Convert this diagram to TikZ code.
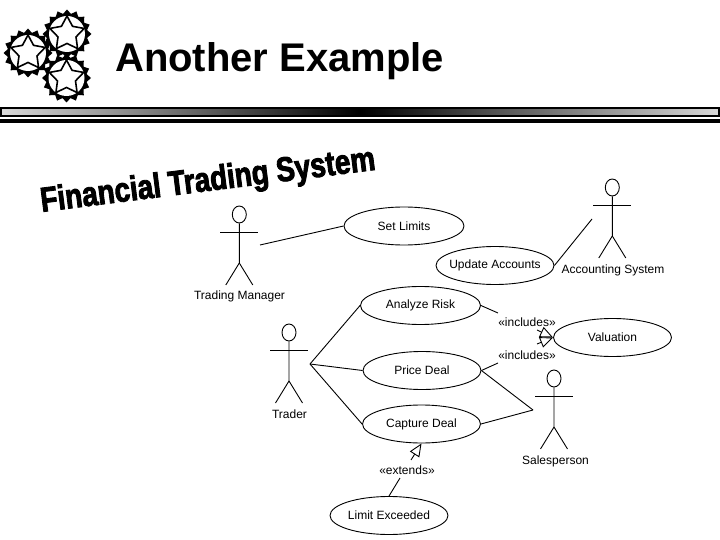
\documentclass[tikz,border=0pt]{standalone}
\usepackage{fontspec}
\setmainfont{Liberation Sans}
\newfontfamily\wordartfont{Liberation Sans Bold}[FakeStretch=0.81,FakeBold=2.5]
\usetikzlibrary{arrows.meta,shapes.geometric}
\tikzset{
	usecase/.style={draw,ellipse,line width=0.9pt,inner ysep=0pt,inner xsep=-5pt,minimum width=118pt,minimum height=38pt,font=\fontsize{12}{14}\selectfont},
	label text/.style={inner sep=0pt,font=\fontsize{12}{14}\selectfont},
	link/.style={line width=0.9pt},
	open link/.style={line width=0.9pt,-{Triangle[open,length=13pt,width=11pt]}},
	badge teeth/.style={star,star points=16,star point ratio=1.2,fill=black,inner sep=0pt,minimum size=49pt},
	badge ring/.style={circle,fill=white,inner sep=0pt,minimum size=36pt},
	badge star/.style={star,star points=5,star point ratio=1.9,draw,fill=white,line width=1.6pt,inner sep=0pt,minimum size=36pt},
	actor/.pic={
		\node[draw,ellipse,line width=0.9pt,inner sep=0pt,minimum width=14pt,minimum height=17pt] (-head) at (0,8.5) {};
		\draw[link] (-head.south) -- (0,57) -- (-13.5,79);
		\draw[link] (0,57) -- (13.5,79);
		\draw[link] (-19,26) -- (19,26);
	}
}
\begin{document}
	\begin{tikzpicture}[x=1pt,y=-1pt]
		\useasboundingbox (0,0) rectangle (720,540);
		
		%logo
		\foreach \nm/\cx/\cy in {left/28/53,top/67/34,bottom/66.5/78}{
			\node[badge teeth] (teeth \nm) at (\cx,\cy) {};
			\node[badge ring] (ring \nm) at (\cx,\cy) {};
			\node[badge star] (star \nm) at (\cx,\cy) {};
		}
		
		\node[anchor=base west,inner sep=0pt,font=\fontsize{40}{44}\selectfont\bfseries] (title) at (115,72) {Another Example};
		
		%rules under the title
		\shade[draw=black,line width=2pt,left color=black!15,right color=black!15,middle color=black] (1,108) rectangle (719,116);
		\fill (0,119) rectangle (720,122.7);
		
		\node[rotate=7.2,inner sep=0pt,font=\fontsize{34.5}{36}\wordartfont] (system) at (208,182) {Financial Trading System};
		
		%actors
		\pic (manager) at (239.3,206) {actor};
		\pic (trader) at (289,324) {actor};
		\pic (accounting) at (612.3,179) {actor};
		\pic (sales) at (554,370) {actor};
		
		\node[label text] (manager label) at (239.5,296.5) {Trading Manager};
		\node[label text] (trader label) at (289.5,414.5) {Trader};
		\node[label text] (accounting label) at (613,270) {Accounting System};
		\node[label text] (sales label) at (555.5,461) {Salesperson};
		
		%use cases
		\node[usecase,minimum width=120pt] (limits) at (404,226) {Set Limits};
		\node[usecase] (accounts) at (495,265.5) {Update Accounts};
		\node[usecase,minimum width=120pt] (risk) at (420.5,305.5) {Analyze Risk};
		\node[usecase] (price) at (422,370.5) {Price Deal};
		\node[usecase] (capture) at (421.5,424) {Capture Deal};
		\node[usecase] (exceeded) at (389,515.5) {Limit Exceeded};
		\node[usecase] (valuation) at (612.5,337.5) {Valuation};
		
		\node[label text] (includes risk) at (527,322) {«includes»};
		\node[label text] (includes price) at (527,355) {«includes»};
		\node[label text] (extends) at (407,470) {«extends»};
		
		%free ends of the connectors
		\coordinate (manager port) at (260,245);
		\coordinate (trader port) at (310,364);
		\coordinate (accounting port) at (592,219);
		\coordinate (sales port) at (533,410);
		\coordinate (risk out) at (498,313);
		\coordinate (risk in) at (537,330);
		\coordinate (price out) at (498,363);
		\coordinate (price in) at (537,344);
		\coordinate (exceeded out) at (400,478);
		\coordinate (capture in) at (411,460);
		
		\draw[link] (manager port) -- (limits.west);
		\draw[link] (accounting port) -- (accounts.east);
		\draw[link] (trader port) -- (risk.west);
		\draw[link] (trader port) -- (price.west);
		\draw[link] (trader port) -- (capture.west);
		\draw[link] (sales port) -- (price.east);
		\draw[link] (sales port) -- (capture.east);
		
		\draw[link] (risk.east) -- (risk out);
		\draw[link] (price.east) -- (price out);
		\draw[open link] (risk in) -- (valuation.west);
		\draw[open link] (price in) -- (valuation.west);
		\draw[link] (exceeded.north) -- (exceeded out);
		\draw[open link] (capture in) -- (capture.south);
		
	\end{tikzpicture}
\end{document}
